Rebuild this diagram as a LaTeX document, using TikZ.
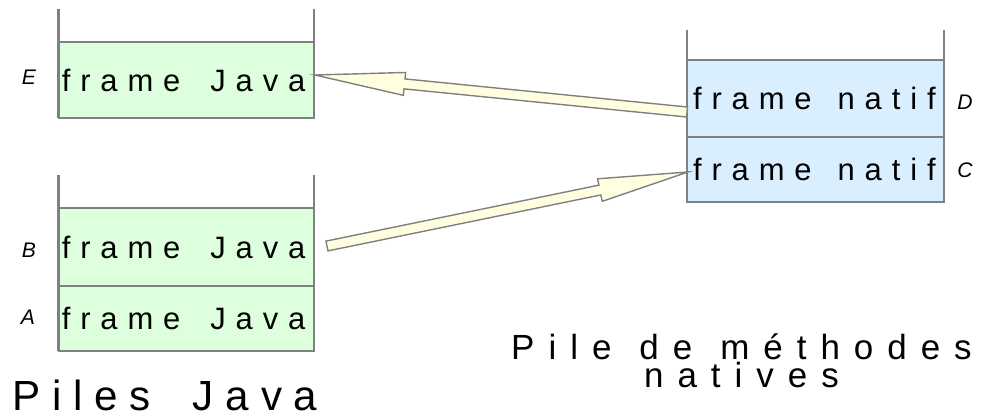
\documentclass[tikz,border=0pt]{standalone}
\usepackage{fontspec}
\setmainfont{Liberation Sans}
\newfontfamily\spacedfont[LetterSpace=32]{Liberation Sans}
\newfontfamily\javatitlefont[LetterSpace=28]{Liberation Sans}
\newfontfamily\nativetitlefont[LetterSpace=40]{Liberation Sans}
\usetikzlibrary{calc,positioning}
\definecolor{framegray}{HTML}{808080}
\definecolor{javagreen}{HTML}{DDFFDD}
\definecolor{nativeblue}{HTML}{D9EEFE}
\definecolor{callyellow}{HTML}{FFFFE0}
\tikzset{
    stack diagram/.style = {x=0.02cm, y=-0.02cm},
    stack wall/.style    = {draw=framegray, line width=1.2pt},
    frame/.style         = {draw=framegray, line width=0.9pt, outer sep=0pt,
                            align=left, inner ysep=0pt,
                            font=\spacedfont\fontsize{17.6}{20}\selectfont},
    java frame/.style    = {frame, fill=javagreen, minimum width=5.11cm,
                            text width=4.98cm, inner xsep=0.065cm},
    native frame/.style  = {frame, fill=nativeblue, minimum width=5.14cm,
                            text width=4.90cm, inner xsep=0.12cm},
    tag/.style           = {font=\itshape\fontsize{12}{14}\selectfont},
    call arrow/.style    = {draw=framegray, fill=callyellow, line width=0.8pt,
                            line join=miter},
    java title/.style    = {anchor=base west, inner sep=0pt,
                            font=\javatitlefont\fontsize{24}{28}\selectfont},
    native title/.style  = {align=center, inner sep=0pt,
                            font=\nativetitlefont\fontsize{19.9}{14.2}\selectfont}
}
% fat outlined arrow from tail #1 to tip #2
\newcommand{\callarrow}[2]{%
    \path (#1) coordinate (ct) (#2) coordinate (ch);
    \path ($(ch)!1.8cm!(ct)$) coordinate (cb);
    \draw[call arrow] ($(ct)!0.1cm!90:(ch)$) -- ($(cb)!0.1cm!90:(ch)$)
        -- ($(cb)!0.23cm!90:(ch)$) -- (ch) -- ($(cb)!0.23cm!-90:(ch)$)
        -- ($(cb)!0.1cm!-90:(ch)$) -- ($(ct)!0.1cm!-90:(ch)$) -- cycle;}
\newcommand{\wgap}[1]{\hspace{#1}}

\begin{document}
\begin{tikzpicture}[stack diagram]
\useasboundingbox (0,0) rectangle (1008,416);

% ================= First Java stack =================
\node[java frame, minimum height=1.52cm] (frameE) at (186.25, 80) {\mbox{frame\wgap{0.6cm}Java}};
\draw[stack wall] (frameE.south west) -- ++(0,-109);
\draw[stack wall] (frameE.south east) -- ++(0,-109);
\node[tag] (tagE) at (29, 77) {E};

% ================= Second Java stack =================
\node[java frame, minimum height=1.56cm] (frameB) at (186.25, 247) {\mbox{frame\wgap{0.6cm}Java}};
\node[java frame, minimum height=1.30cm, below=0pt of frameB] (frameA) {\mbox{frame\wgap{0.6cm}Java}};
\draw[stack wall] (frameA.south west) -- ++(0,-176);
\draw[stack wall] (frameA.south east) -- ++(0,-176);
\node[tag] (tagB) at (29, 250) {B};
\node[tag] (tagA) at (28, 317) {A};

% ================= Native method stack =================
\node[native frame, minimum height=1.54cm] (frameD) at (815.5, 98.5) {\mbox{frame\wgap{0.52cm}natif}};
\node[native frame, minimum height=1.30cm, below=0pt of frameD] (frameC) {\mbox{frame\wgap{0.52cm}natif}};
\draw[stack wall] (frameC.south west) -- ++(0,-172);
\draw[stack wall] (frameC.south east) -- ++(0,-172);
\node[tag] (tagD) at (965, 102) {D};
\node[tag] (tagC) at (965, 170) {C};

% ================= Calls between stacks =================
\callarrow{$(frameD.west)+(0,13.5)$}{$(frameE.east)+(1,-5)$}
\callarrow{$(frameB.east)+(13,-1)$}{$(frameC.west)+(1,2.5)$}

% ================= Titles =================
\node[java title] (javaTitle) at (12, 410) {Piles\wgap{0.84cm}Java};
\node[native title, anchor=base] (nativeTitle) at (741.5, 387)
    {Pile\wgap{0.56cm}de\wgap{0.56cm}méthodes\\natives};

\end{tikzpicture}
\end{document}
